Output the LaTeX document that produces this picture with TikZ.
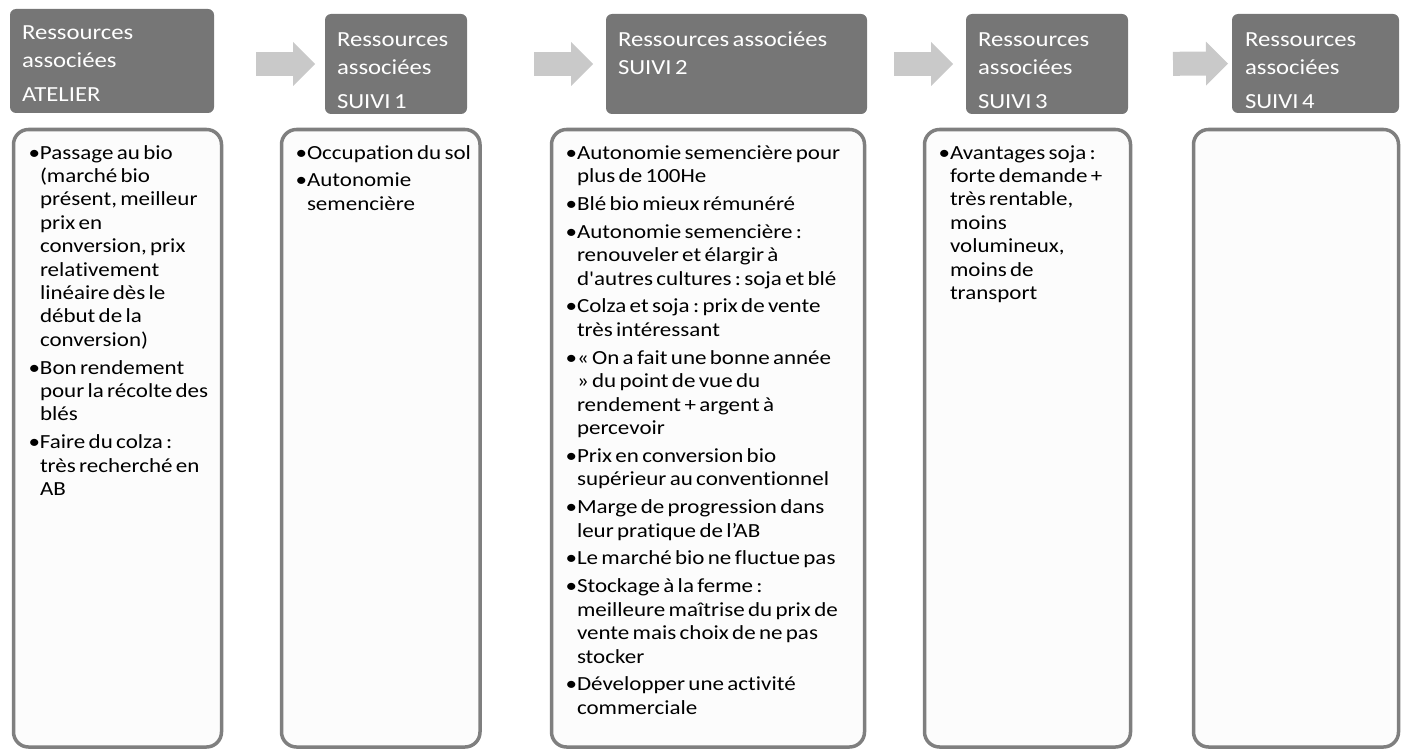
\documentclass[tikz,border=0pt]{standalone}
\usepackage{fontspec}
\setmainfont[FakeStretch=1.15, Ligatures={NoCommon,TeXOff}]{Carlito}
\usetikzlibrary{positioning,arrows.meta}
\frenchspacing

\definecolor{fondtitre}{RGB}{118,118,118}
\definecolor{grisfleche}{RGB}{201,201,201}
\definecolor{grisbord}{RGB}{127,127,127}
\definecolor{fondcorps}{RGB}{252,252,252}

\newcommand\puce{\leavevmode\llap{\textbullet}}
\newcommand\liste{\fontsize{20}{23.4}\selectfont\raggedright\leftskip=7pt\parskip=4.5pt\relax}
\newcommand\entete{\fontsize{21.5}{28}\selectfont\parskip=6pt\relax}

\begin{document}
\begin{tikzpicture}[x=1pt, y=-1pt,
    titre/.style={fill=fondtitre, rounded corners=6pt, anchor=north west, inner sep=0pt, outer sep=0pt},
    libelle/.style={anchor=north west, inner sep=0pt, outer sep=0pt, text=white, text width=#1, text height=18pt},
    cadre/.style={draw=grisbord, line width=3.5pt, fill=fondcorps, rounded corners=15pt, anchor=north west, inner sep=0pt, outer sep=0pt, minimum height=617.5pt},
    texte/.style={anchor=north west, inner sep=0pt, outer sep=0pt, text width=#1, text height=17pt},
    fleche/.style={draw=grisfleche, line width=24pt, -{Triangle[width=44pt,length=22pt,line width=0pt]}}]
    \useasboundingbox (0,0) rectangle (1407,749);

    % 标题框
    \node[titre, minimum width=204pt, minimum height=104pt] (h1) at (10,9) {};
    \node[titre, minimum width=142pt, minimum height=100pt] (h2) at (325,14) {};
    \node[titre, minimum width=261pt, minimum height=100pt] (h3) at (606,14) {};
    \node[titre, minimum width=162pt, minimum height=100pt] (h4) at (966,14) {};
    \node[titre, minimum width=167pt, minimum height=99pt] (h5) at (1232,14) {};

    \node[libelle=185pt, below right=13pt and 12pt of h1.north west] (l1) {\entete Ressources\newline associées\par ATELIER\par};
    \node[libelle=130pt, below right=15pt and 12pt of h2.north west] (l2) {\entete Ressources\newline associées\par SUIVI 1\par};
    \node[libelle=245pt, below right=15pt and 12pt of h3.north west] (l3) {\entete Ressources associées\newline SUIVI 2\par};
    \node[libelle=150pt, below right=15pt and 12pt of h4.north west] (l4) {\entete Ressources\newline associées\par SUIVI 3\par};
    \node[libelle=155pt, below right=15pt and 13pt of h5.north west] (l5) {\entete Ressources\newline associées\par SUIVI 4\par};

    % 箭头
    \draw[fleche, shorten <=42pt, shorten >=10pt] (h1.east |- h2.west) -- (h2.west);
    \draw[fleche, shorten <=67pt, shorten >=13pt] (h2.east) -- (h3.west);
    \draw[fleche, shorten <=27pt, shorten >=13pt] (h3.east) -- (h4.west);
    \draw[fleche, shorten <=45pt, shorten >=4pt] (h4.east) -- (h5.west);

    % 内容框
    \node[cadre, minimum width=208pt] (b1) at (13.5,129.5) {};
    \node[cadre, minimum width=198.5pt] (b2) at (281.5,129.5) {};
    \node[cadre, minimum width=313pt] (b3) at (551.5,129.5) {};
    \node[cadre, minimum width=206pt] (b4) at (924.5,129.5) {};
    \node[cadre, minimum width=205pt] (b5) at (1193.5,129.5) {};

    % 内容
    \node[texte=200pt, below right=12.5pt and 19.5pt of b1.north west] (t1) {\liste
      \puce Passage au bio\newline (marché bio\newline présent, meilleur\newline prix en\newline conversion, prix\newline relativement\newline linéaire dès le\newline début de la\newline conversion)\par
      \puce Bon rendement\newline pour la récolte des\newline blés\par
      \puce Faire du colza :\newline très recherché en\newline AB\par};
    \node[texte=200pt, below right=12.5pt and 18.5pt of b2.north west] (t2) {\liste
      \puce Occupation du sol\par
      \puce Autonomie\newline semencière\par};
    \node[texte=320pt, below right=12.5pt and 18.5pt of b3.north west] (t3) {\liste
      \puce Autonomie semencière pour\newline plus de 100He\par
      \puce Blé bio mieux rémunéré\par
      \puce Autonomie semencière :\newline renouveler et élargir à\newline d'autres cultures : soja et blé\par
      \puce Colza et soja : prix de vente\newline très intéressant\par
      \puce « On a fait une bonne année\newline » du point de vue du\newline rendement + argent à\newline percevoir\par
      \puce Prix en conversion bio\newline supérieur au conventionnel\par
      \puce Marge de progression dans\newline leur pratique de l’AB\par
      \puce Le marché bio ne fluctue pas\par
      \puce Stockage à la ferme :\newline meilleure maîtrise du prix de\newline vente mais choix de ne pas\newline stocker\par
      \puce Développer une activité\newline commerciale\par};
    \node[texte=200pt, below right=12.5pt and 18.5pt of b4.north west] (t4) {\liste
      \puce Avantages soja :\newline forte demande +\newline très rentable,\newline moins\newline volumineux,\newline moins de\newline transport\par};
\end{tikzpicture}
\end{document}
